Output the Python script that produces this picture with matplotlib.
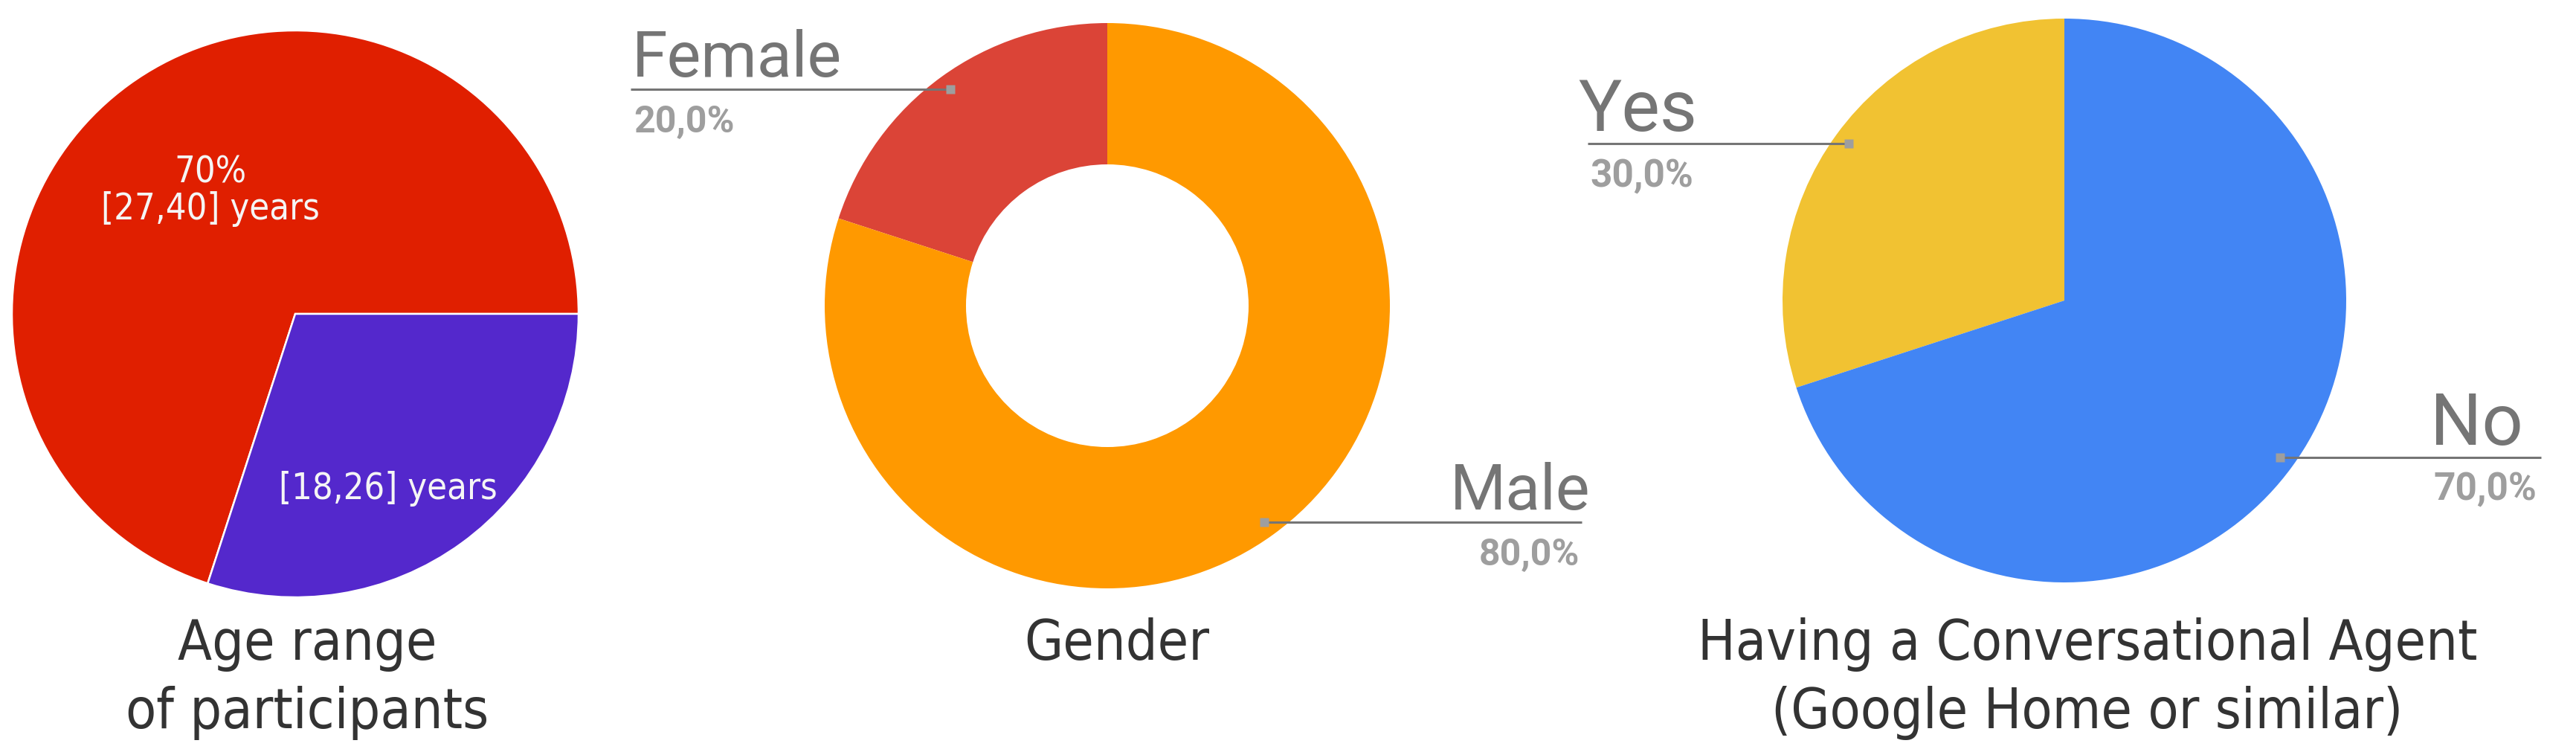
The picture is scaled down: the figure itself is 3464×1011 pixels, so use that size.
import numpy as np
import matplotlib
matplotlib.use("Agg")
import matplotlib.pyplot as plt
from matplotlib import font_manager as fm

W, H = 3464, 1012

# data
age_labels = ["[27,40] years", "[18,26] years"]
age_values = [70, 30]
age_colors = ["#e01f00", "#5428cc"]

gender_labels = ["Female", "Male"]
gender_values = [20, 80]
gender_colors = ["#db4437", "#ff9900"]

agent_labels = ["Yes", "No"]
agent_values = [30, 70]
agent_colors = ["#f1c232", "#4285f4"]

titles = [["Age range", "of participants"], ["Gender"],
          ["Having a Conversational Agent", "(Google Home or similar)"]]

TITLE_COL = "#333333"
LAB_COL = "#757575"
PCT_COL = "#9e9e9e"

# the titles look like DejaVu Sans Condensed; use it when it is installed
cond = [f for f in fm.fontManager.ttflist
        if "DejaVuSansCondensed.ttf" in f.fname]
if cond:
    def tfont(size):
        return fm.FontProperties(fname=cond[0].fname, size=size)
    TITLE_SIZE, INNER_SIZE = 54, 35
else:
    def tfont(size):
        return fm.FontProperties(family="DejaVu Sans", size=size)
    TITLE_SIZE, INNER_SIZE = 48.5, 31.5


def py(y):
    # pixel row (top-down) -> data y
    return H - y


fig = plt.figure(figsize=(W / 100, H / 100), dpi=100)
ax = fig.add_axes([0, 0, 1, 1])

# --- pie 1: age range ---
c1 = (397, py(423))
r1 = 381
ax.pie(age_values, colors=age_colors, startangle=0, counterclock=True,
       center=c1, radius=r1,
       wedgeprops=dict(edgecolor="white", linewidth=1.8))
ax.text(283, py(256), f"{age_values[0]}%\n{age_labels[0]}", color="#f5f5f5",
        fontproperties=tfont(INNER_SIZE), ha="center", va="center", linespacing=1.05)
ax.text(522, py(671), age_labels[1], color="#f5f5f5",
        fontproperties=tfont(INNER_SIZE), ha="center", va="baseline")


def callout_pie(values, labels, colors, center, radius, width, lab_size, pct_size,
                sides, text_x, pct_x, line_end):
    wedges, _ = ax.pie(values, colors=colors, startangle=90, counterclock=True,
                       center=center, radius=radius,
                       wedgeprops=dict(width=width, linewidth=0))
    for i, w in enumerate(wedges):
        mid = np.deg2rad((w.theta1 + w.theta2) / 2)
        dx = center[0] + 0.945 * radius * np.cos(mid)
        dy = center[1] + 0.945 * radius * np.sin(mid)
        ax.plot([dx, line_end[i]], [dy, dy], color=LAB_COL, lw=2.2, solid_capstyle="butt", zorder=3)
        ax.plot([dx], [dy], marker="s", ms=8, color=PCT_COL, mec="none", zorder=4)
        ha = sides[i]
        ax.text(text_x[i], dy + 18, labels[i], color=LAB_COL, family="Roboto",
                fontsize=lab_size, ha=ha, va="baseline")
        pct = f"{values[i] / sum(values) * 100:.1f}%".replace(".", ",")
        ax.text(pct_x[i], dy - 57, pct, color=PCT_COL, family="Roboto", weight="bold",
                fontsize=pct_size, ha=ha, va="baseline")


# --- pie 2: gender donut ---
callout_pie(gender_values, gender_labels, gender_colors, (1489, py(412)), 380, 190,
            62, 36, ["left", "right"], [850, 2138], [852, 2124], [848, 2127])

# --- pie 3: conversational agent ---
callout_pie(agent_values, agent_labels, agent_colors, (2776, py(405)), 379, None,
            70, 37, ["left", "right"], [2122, 3393], [2138, 3411], [2135, 3417])

# titles
title_x = [413, 1502, 2807]
for x, lines in zip(title_x, titles):
    for k, t in enumerate(lines):
        ax.text(x, py(887 + 92 * k), t, color=TITLE_COL, fontproperties=tfont(TITLE_SIZE),
                ha="center", va="baseline")

ax.set_xlim(0, W)
ax.set_ylim(0, H)
ax.set_aspect("equal")
ax.axis("off")

fig.savefig("out.png", dpi=100, facecolor="white")
